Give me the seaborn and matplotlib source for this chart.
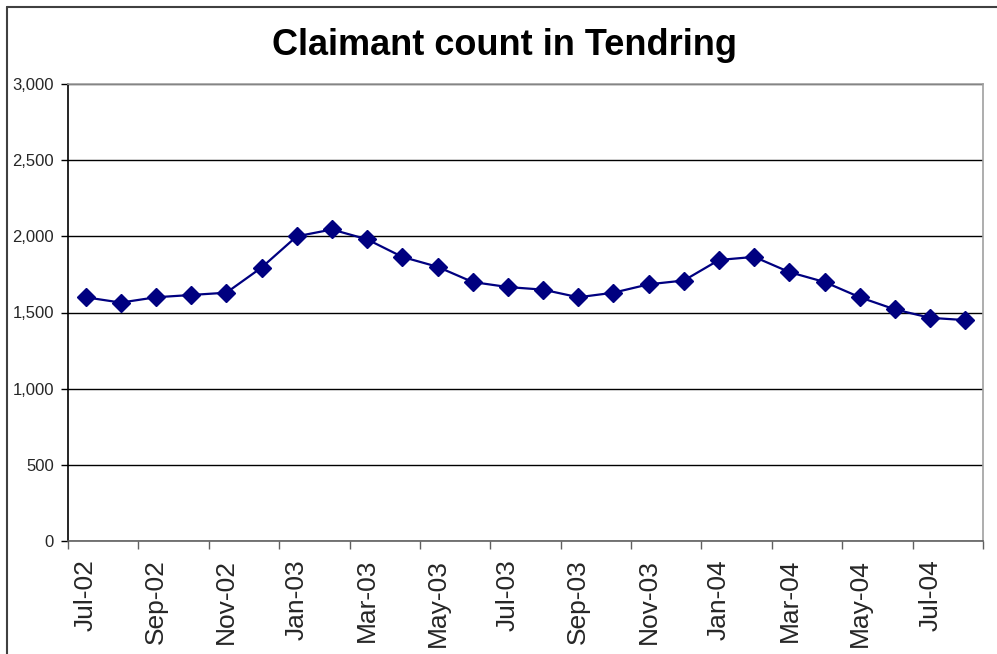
import numpy as np
import pandas as pd
import seaborn as sns
import matplotlib
matplotlib.use("Agg")
import matplotlib.pyplot as plt
from matplotlib.ticker import FuncFormatter, FixedLocator
from matplotlib.lines import Line2D

months = ["Jul-02", "Aug-02", "Sep-02", "Oct-02", "Nov-02", "Dec-02",
          "Jan-03", "Feb-03", "Mar-03", "Apr-03", "May-03", "Jun-03",
          "Jul-03", "Aug-03", "Sep-03", "Oct-03", "Nov-03", "Dec-03",
          "Jan-04", "Feb-04", "Mar-04", "Apr-04", "May-04", "Jun-04",
          "Jul-04", "Aug-04"]
claimants = [1600, 1565, 1600, 1615, 1630, 1795,
             2000, 2045, 1980, 1865, 1800, 1700,
             1667, 1650, 1600, 1630, 1685, 1710,
             1845, 1865, 1765, 1700, 1600, 1520,
             1465, 1450]
y_ticks = [0, 500, 1000, 1500, 2000, 2500, 3000]
title = "Claimant count in Tendring"

sns.set_theme(style="white")
plt.rcParams["font.family"] = ["Liberation Sans", "DejaVu Sans"]

df = pd.DataFrame({"idx": np.arange(len(months)), "month": months, "count": claimants})

fig = plt.figure(figsize=(9.97, 6.54), dpi=100)
ax = fig.add_axes([68/997, 1 - 541/654, (983 - 68)/997, (541 - 84)/654])

sns.lineplot(data=df, x="idx", y="count", ax=ax, color="#000080", linewidth=1.6,
             marker="D", markersize=9, markeredgecolor="#000080",
             markerfacecolor="#000080", markeredgewidth=1)

ax.set_xlim(-0.5, len(months) - 0.5)
ax.set_ylim(0, 3000)
ax.set_xlabel("")
ax.set_ylabel("")

# y axis
ax.yaxis.set_major_locator(FixedLocator(y_ticks))
ax.yaxis.set_major_formatter(FuncFormatter(lambda v, p: f"{int(v):,}"))
ax.tick_params(axis="y", which="major", direction="out", length=5, width=1,
               color="black", labelsize=12, pad=5, left=True)
ax.grid(axis="y", color="black", linewidth=1)
ax.set_axisbelow(True)

# x axis: tick marks between categories, labels at every other category
bounds = np.arange(-0.5, len(months), 2)
ax.xaxis.set_major_locator(FixedLocator(bounds))
ax.xaxis.set_major_formatter(FuncFormatter(lambda v, p: ""))
label_pos = list(range(0, len(months), 2))
ax.xaxis.set_minor_locator(FixedLocator(label_pos))
ax.set_xticklabels([months[i] for i in label_pos], minor=True, rotation=90)
ax.tick_params(axis="x", which="major", direction="out", length=6, width=1,
               color="#606060", bottom=True)
ax.tick_params(axis="x", which="minor", length=0, labelsize=19, pad=13)
for lab in ax.get_xticklabels(minor=True):
    lab.set_verticalalignment("top")

for side, col in [("left", "black"), ("bottom", "#606060"), ("top", "#a0a0a0"), ("right", "#a0a0a0")]:
    ax.spines[side].set_visible(True)
    ax.spines[side].set_color(col)
    ax.spines[side].set_linewidth(1.2)

fig.text(505/997, 1 - 55/654, title, ha="center", va="baseline",
         fontsize=26, fontweight="bold", color="black")

# outer chart frame (cropped on right and bottom)
fig.add_artist(Line2D([7/997, 7/997], [0, 1 - 7/654], transform=fig.transFigure,
                      color="#404040", linewidth=1.5))
fig.add_artist(Line2D([7/997, 1], [1 - 7/654, 1 - 7/654], transform=fig.transFigure,
                      color="#404040", linewidth=1.5))

fig.savefig("out.png", dpi=100, facecolor="white")
